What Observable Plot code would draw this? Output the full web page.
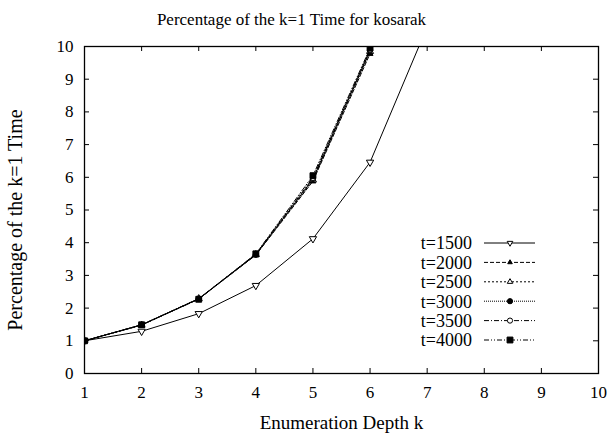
<!DOCTYPE html>
<html><head><meta charset="utf-8">
<script src="https://cdn.jsdelivr.net/npm/d3@7"></script>
<script src="https://cdn.jsdelivr.net/npm/@observablehq/plot@0.6"></script>
<style>
html,body{margin:0;padding:0;background:#fff}
#chart svg, #chart svg text { font-family: "Liberation Serif", "Times New Roman", serif !important; }
</style>
</head><body><div id="chart"></div>
<script>
// ---- data ----
const depthK = [1, 2, 3, 4, 5, 6, 7];
const seriesNames = ["t=1500", "t=2000", "t=2500", "t=3000", "t=3500", "t=4000"];
const t1500 = [1.00, 1.29, 1.83, 2.69, 4.12, 6.46, 10.6];
const t2000 = [1.00, 1.48, 2.28, 3.62, 5.88, 9.78];
const t2500 = [1.00, 1.48, 2.29, 3.64, 5.92, 9.85];
const t3000 = [1.00, 1.49, 2.28, 3.63, 5.95, 9.88];
const t3500 = [1.00, 1.49, 2.29, 3.65, 5.98, 9.90];
const t4000 = [1.00, 1.49, 2.27, 3.66, 6.05, 9.95];
const xTicks = [1, 2, 3, 4, 5, 6, 7, 8, 9, 10];
const yTicks = [0, 1, 2, 3, 4, 5, 6, 7, 8, 9, 10];
const titleText = "Percentage of the k=1 Time for kosarak";
const xLabelText = "Enumeration Depth k";
const yLabelText = "Percentage of the k=1 Time";

// ---- styles ----
const seriesValues = [t1500, t2000, t2500, t3000, t3500, t4000];
const styles = [
  {dash: null, symbol: "triangle", rotate: 180, filled: false, r: 2.7},
  {dash: "4,2", symbol: "triangle", rotate: 0, filled: true, r: 2.2},
  {dash: "2,2", symbol: "triangle", rotate: 0, filled: false, r: 2.6},
  {dash: "1,1", symbol: "circle", rotate: 0, filled: true, r: 2.6},
  {dash: "5,2,1,2", symbol: "circle", rotate: 0, filled: false, r: 2.6},
  {dash: "5,2,1,2,1,2", symbol: "square", rotate: 0, filled: true, r: 3.3}
];
const d3Sym = {triangle: d3.symbolTriangle2 || d3.symbolTriangle, circle: d3.symbolCircle, square: d3.symbolSquare};

const table = [];
seriesNames.forEach((name, i) => {
  seriesValues[i].forEach((v, j) => table.push({series: name, k: depthK[j], v}));
});

const FONT = '"Liberation Serif", "Times New Roman", serif';
const mL = 84, mR = 15, mT = 46, mB = 61, W = 613, H = 434;
const fw = W - mL - mR, fh = H - mT - mB, tick = 5;

const marks = [];
// inward ticks on all four sides
marks.push(Plot.ruleX(xTicks, {insetTop: fh - tick, stroke: "black", strokeWidth: 1}));
marks.push(Plot.ruleX(xTicks, {insetBottom: fh - tick, stroke: "black", strokeWidth: 1}));
marks.push(Plot.ruleY(yTicks, {insetRight: fw - tick, stroke: "black", strokeWidth: 1}));
marks.push(Plot.ruleY(yTicks, {insetLeft: fw - tick, stroke: "black", strokeWidth: 1}));
marks.push(Plot.axisX(xTicks, {tickSize: 0, tickPadding: 12, label: null, fontSize: 17}));
marks.push(Plot.axisY(yTicks, {tickSize: 0, tickPadding: 11, label: null, fontSize: 17}));

seriesNames.forEach((name, i) => {
  const s = styles[i];
  const data = table.filter(d => d.series === name);
  marks.push(Plot.line(data, {x: "k", y: "v", stroke: "black", strokeWidth: 1, strokeDasharray: s.dash, clip: true}));
  marks.push(Plot.dot(data, {x: "k", y: "v", symbol: s.symbol, r: s.r, rotate: s.rotate,
    fill: s.filled ? "black" : "white", stroke: "black", strokeWidth: 1, clip: true}));
});
marks.push(Plot.frame({stroke: "black", strokeWidth: 1.3}));

// title and axis labels
marks.push(Plot.text([titleText], {frameAnchor: "top", textAnchor: "middle", lineAnchor: "middle", dx: -50, dy: -27, fontSize: 17, text: d => d}));
marks.push(Plot.text([xLabelText], {frameAnchor: "bottom", textAnchor: "middle", lineAnchor: "middle", dy: 49, fontSize: 19, text: d => d}));
marks.push(Plot.text([yLabelText], {frameAnchor: "left", textAnchor: "middle", lineAnchor: "middle", dx: -69, dy: 10, rotate: -90, fontSize: 20, text: d => d}));

// legend
marks.push(function legend(index, scales, values, dims) {
  const g = d3.create("svg:g").attr("font-family", FONT).attr("font-size", 18);
  const right = dims.width - dims.marginRight;
  const textX = right - 126, lineX1 = right - 114, lineX2 = right - 63, symX = right - 88;
  const y0 = dims.marginTop + 197, step = 19.4;
  seriesNames.forEach((name, i) => {
    const s = styles[i];
    const y = y0 + i * step;
    g.append("text").attr("x", textX).attr("y", y).attr("dy", "0.35em")
      .attr("text-anchor", "end").attr("fill", "black").text(name);
    g.append("line").attr("x1", lineX1).attr("x2", lineX2).attr("y1", y).attr("y2", y)
      .attr("stroke", "black").attr("stroke-width", 1)
      .attr("stroke-dasharray", s.dash);
    g.append("path").attr("d", d3.symbol(d3Sym[s.symbol], Math.PI * s.r * s.r)())
      .attr("transform", `translate(${symX},${y}) rotate(${s.rotate})`)
      .attr("fill", s.filled ? "black" : "white").attr("stroke", "black").attr("stroke-width", 1);
  });
  return g.node();
});

const chart = Plot.plot({
  width: W, height: H,
  marginLeft: mL, marginRight: mR, marginTop: mT, marginBottom: mB,
  x: {domain: [1, 10]},
  y: {domain: [0, 10]},
  style: {fontFamily: FONT, fontSize: "17px", background: "white", color: "black"},
  marks
});
document.getElementById("chart").appendChild(chart);
</script>
</body></html>
